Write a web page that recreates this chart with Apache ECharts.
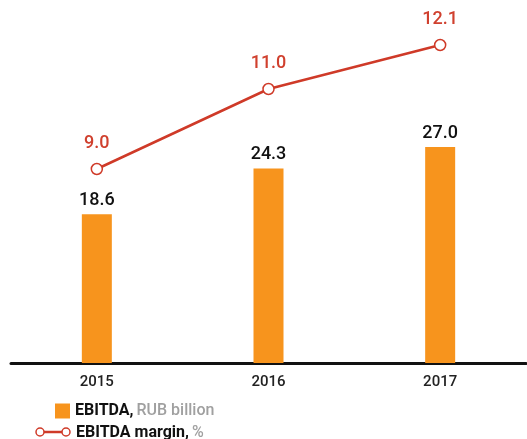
<!DOCTYPE html>
<html><head><meta charset="utf-8">
<script src="https://cdn.jsdelivr.net/npm/echarts@6/dist/echarts.min.js"></script>
<style>html,body{margin:0;padding:0;background:#fff}#c{width:527px;height:439px}</style>
</head><body><div id="c"></div>
<script>
var categories = ['2015', '2016', '2017'];
var ebitda = [18.6, 24.3, 27.0];
var margin = [9.0, 11.0, 12.1];
var barName = 'EBITDA, RUB billion';
var lineName = 'EBITDA margin, %';

var chart = echarts.init(document.getElementById('c'));
var FONT = 'Roboto';
var RED = '#cf3a28';
function legendFmt(n) {
  var i = n.indexOf(',');
  return '{a|' + n.slice(0, i + 1) + '} {b|' + n.slice(i + 2) + '}';
}
var legendText = {
  rich: {
    a: { color: '#111', fontSize: 16, fontWeight: 'bold', fontFamily: FONT },
    b: { color: '#a0a0a0', fontSize: 16, fontWeight: 500, fontFamily: FONT }
  }
};
chart.setOption({
  animation: false,
  textStyle: { fontFamily: FONT },
  grid: { left: 11, right: 1, top: 43, bottom: 76 },
  xAxis: {
    type: 'category', data: categories,
    axisLine: { lineStyle: { color: '#111', width: 3 } },
    axisTick: { show: false },
    axisLabel: { color: '#222', fontSize: 15, fontWeight: 500, margin: 12, fontFamily: FONT }
  },
  yAxis: [
    { type: 'value', min: 0, max: 40, show: false, splitLine: { show: false } },
    { type: 'value', min: 4.15, max: 12.15, show: false, splitLine: { show: false } }
  ],
  legend: [
    {
      left: 55, top: 403, padding: 0, itemWidth: 15, itemHeight: 15,
      data: [{ name: barName, icon: 'rect' }],
      formatter: legendFmt, textStyle: legendText
    },
    {
      left: 55, top: 424, padding: 0, itemWidth: 15, itemHeight: 15,
      data: [{ name: lineName, icon: 'rect', itemStyle: { opacity: 0 } }],
      formatter: legendFmt, textStyle: legendText
    }
  ],
  graphic: [
    { type: 'line', shape: { x1: 40, y1: 432, x2: 66, y2: 432 }, style: { stroke: RED, lineWidth: 2.5 } },
    { type: 'circle', shape: { cx: 40, cy: 432, r: 4 }, style: { fill: '#fff', stroke: RED, lineWidth: 1.5 } },
    { type: 'circle', shape: { cx: 66, cy: 432, r: 4 }, style: { fill: '#fff', stroke: RED, lineWidth: 1.5 } }
  ],
  series: [
    {
      name: barName, type: 'bar', data: ebitda, barWidth: 30,
      itemStyle: { color: '#f7941d' },
      label: { show: true, position: 'top', distance: 5, color: '#111', fontSize: 18, fontWeight: 500, fontFamily: FONT,
        formatter: function (p) { return p.value.toFixed(1); } }
    },
    {
      name: lineName, type: 'line', yAxisIndex: 1, data: margin,
      symbol: 'circle', symbolSize: 11, showAllSymbol: true,
      lineStyle: { color: RED, width: 2.5 },
      itemStyle: { color: '#fff', borderColor: RED, borderWidth: 1.5 },
      label: { show: true, position: 'top', distance: 10, color: '#d0402e', fontSize: 18, fontWeight: 500, fontFamily: FONT,
        formatter: function (p) { return p.value.toFixed(1); } },
      z: 5
    }
  ]
});
</script></body></html>
